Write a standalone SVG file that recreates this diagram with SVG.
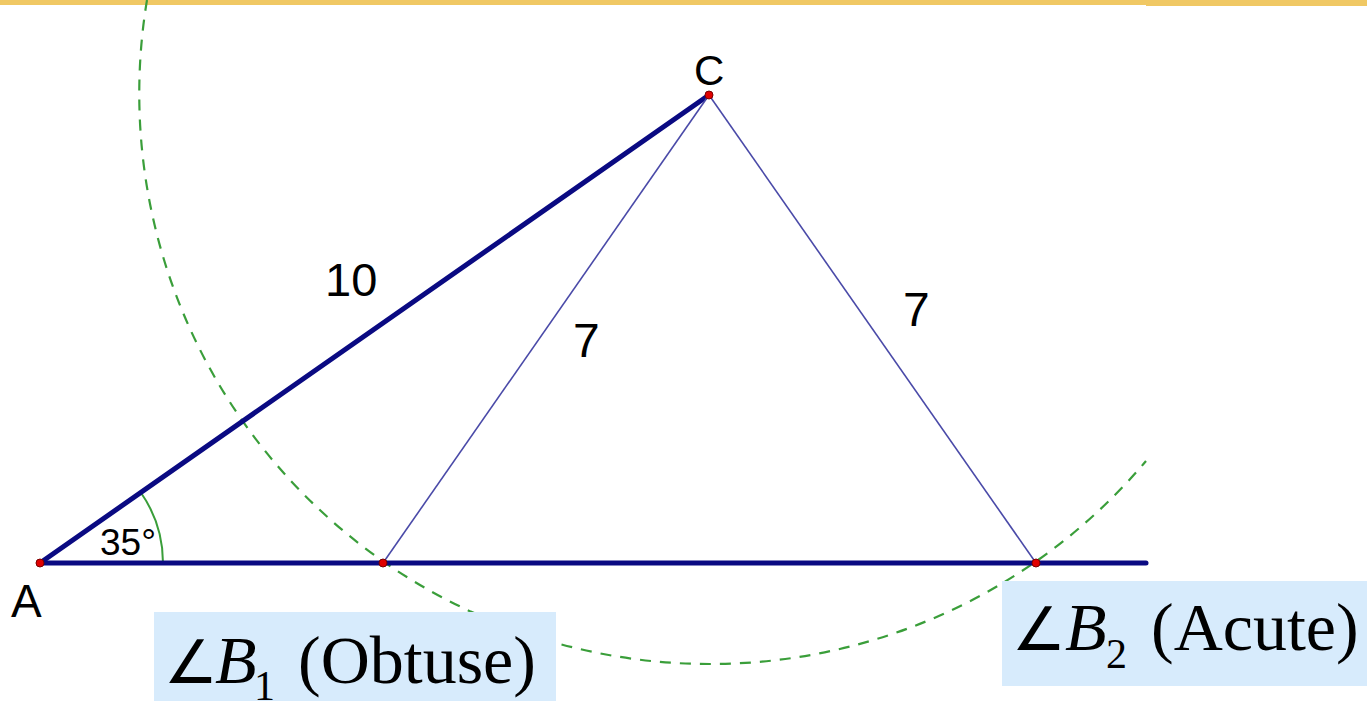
<svg xmlns="http://www.w3.org/2000/svg" width="1367" height="701" viewBox="0 0 1367 701">
<style>
.thick{stroke:#0a0a82;stroke-width:5;stroke-linecap:round;fill:none}
.thin{stroke:#4a4aa8;stroke-width:1.6;fill:none}
.arc{stroke:#3a9e3a;stroke-width:2.2;fill:none;stroke-dasharray:11 9}
.ang{stroke:#3a9e3a;stroke-width:2;fill:none}
.pt{fill:#e00000;stroke:#7a0000;stroke-width:1}
.lbl{font-family:"Liberation Sans",Arial,sans-serif;fill:#000}
.box{fill:#d7ebfc}
.math{font-family:"Liberation Serif","Times New Roman",serif;fill:#000;font-size:68px}
.angsym{font-family:"DejaVu Sans",sans-serif;font-size:60px;font-weight:normal}
</style>
<rect x="0" y="0" width="1367" height="701" fill="#ffffff"/>
<rect id="topbar" x="0" y="0" width="1367" height="5" fill="#f0c864"/>
<rect x="1146" y="0" width="221" height="6" fill="#f0c864"/>
<g id="connectors">
<path id="circle-arc" class="arc" d="M147,0 A570.4,570.4 0 0 0 1146,461"/>
<path id="angle-arc" class="ang" d="M163,563 A123,123 0 0 0 140.8,492.5"/>
<line id="AC" class="thick" x1="40" y1="563" x2="709" y2="95"/>
<line id="base" class="thick" x1="40" y1="563" x2="1146" y2="563" stroke-linecap="butt"/>
<line id="CB1" class="thin" x1="709" y1="95" x2="383" y2="563"/>
<line id="CB2" class="thin" x1="709" y1="95" x2="1036" y2="563"/>
</g>
<g id="node-A">
<circle class="pt" cx="40" cy="563" r="4"/>
<text class="lbl" x="11" y="617" font-size="46">A</text>
</g>
<g id="node-C">
<circle class="pt" cx="709" cy="95" r="4"/>
<text class="lbl" x="694" y="85" font-size="42">C</text>
</g>
<g id="node-B1">
<circle class="pt" cx="383" cy="563" r="4"/>
</g>
<g id="node-B2">
<circle class="pt" cx="1036" cy="563" r="4"/>
</g>
<g id="edge-labels">
<text class="lbl" x="100" y="555" font-size="37">35°</text>
<text class="lbl" x="325" y="296" font-size="47">10</text>
<text class="lbl" x="573" y="357" font-size="48">7</text>
<text class="lbl" x="903" y="326" font-size="48">7</text>
</g>
<g id="label-B1">
<rect class="box" x="154" y="612" width="402" height="89"/>
<text class="math angsym" x="164" y="683">∠</text>
<text class="math" y="683"><tspan x="215" font-style="italic">B</tspan><tspan x="254" y="700" font-size="42">1</tspan><tspan x="298" y="683">(Obtuse)</tspan></text>
</g>
<g id="label-B2">
<rect class="box" x="1002" y="581" width="365" height="105"/>
<text class="math angsym" x="1012" y="650">∠</text>
<text class="math" y="650"><tspan x="1065" font-style="italic">B</tspan><tspan x="1106" y="668" font-size="42">2</tspan><tspan x="1151" y="650">(Acute)</tspan></text>
</g>
</svg>
